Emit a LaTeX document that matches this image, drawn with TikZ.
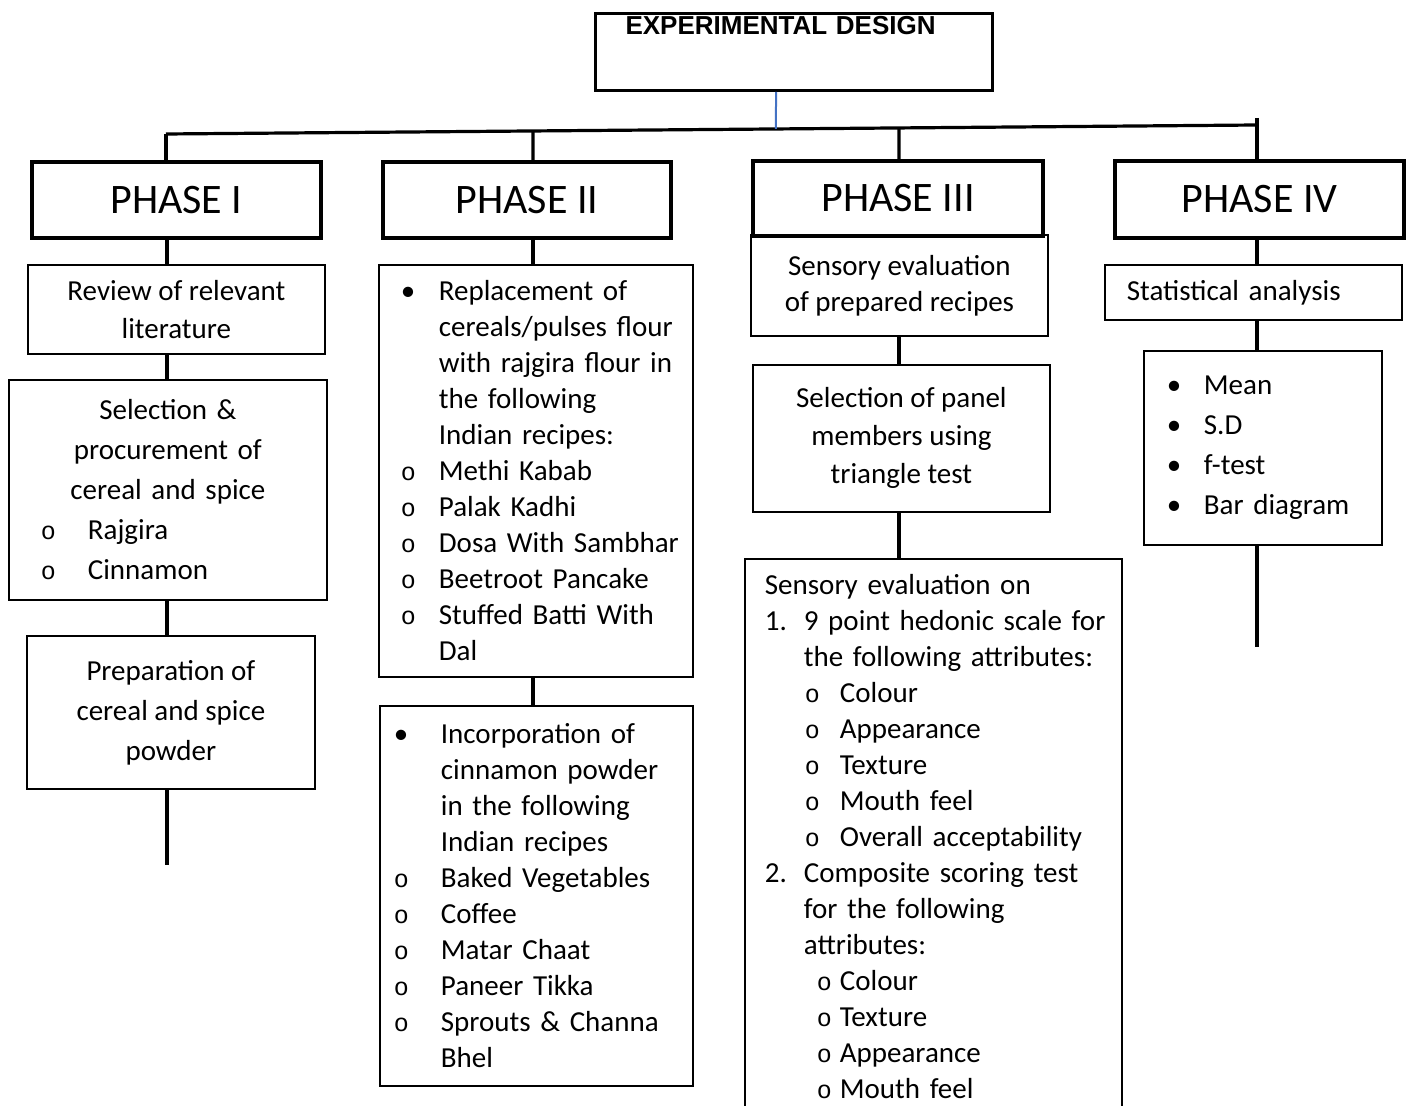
\documentclass[tikz,border=0pt]{standalone}
\usepackage{fontspec}
\setmainfont{Carlito}
\newfontfamily\titlefont{Liberation Sans}
\newfontfamily\markfont{Liberation Mono}
\usetikzlibrary{calc}
\definecolor{wordblue}{HTML}{4472C4}

\newcommand{\hollow}{{\markfont\fontsize{12.5}{12.5}\selectfont o}}
\newcommand{\listline}[3][19pt]{\mbox{\makebox[#1][l]{#2}#3}}

\begin{document}
\begin{tikzpicture}[x=0.5pt,y=-0.5pt,
    phase/.style={draw,line width=2pt,anchor=north west,inner sep=0pt,
      minimum width=144.5pt,minimum height=38pt,font=\fontsize{21}{25}\selectfont},
    stepbox/.style={draw,line width=0.9pt,anchor=north west,inner sep=0pt,
      align=center,font=\fontsize{14.5}{18}\selectfont},
    loose/.style={font=\fontsize{14.5}{20}\selectfont},
    listbox/.style={stepbox,align=left},
    link/.style={line width=1.6pt}]

  \path[use as bounding box,clip] (0,0) rectangle (1408,1106);

  % title and the bar under it
  \node[draw,line width=1.5pt,anchor=north west,inner xsep=15pt,inner ysep=0pt,
    text width=168.5pt,align=left,text height=10.5pt,text depth=28pt,
    font=\titlefont\bfseries\fontsize{13}{15}\selectfont] (design) at (594,12) {EXPERIMENTAL DESIGN};

  \coordinate (barL) at (166,134);
  \coordinate (barR) at (1257,125);
  \coordinate (cb) at (776,0);
  \coordinate (c1) at (167,0);
  \coordinate (c2) at (533,0);
  \coordinate (c3) at (899,0);
  \coordinate (c4) at (1257,0);
  \coordinate (top4) at (1257,118);
  \coordinate (end1) at (167,865);
  \coordinate (end4) at (1257,647);

  % phases
  \node[phase]                                    (p1) at (30,160)   {PHASE I};
  \node[phase,minimum width=144pt]                (p2) at (381,160)  {PHASE II};
  \node[phase,minimum width=145pt,minimum height=37.5pt] (p3) at (751,159) {PHASE III};
  \node[phase,minimum height=38.5pt]              (p4) at (1113,159) {PHASE IV};

  % phase I
  \node[stepbox,minimum width=148.5pt,minimum height=44.5pt,font=\fontsize{14.5}{19}\selectfont]
    (rev) at (27,264) {Review of relevant\\literature};
  \node[stepbox,loose,text width=159pt,minimum height=110pt] (sel) at (8,379)
    {Selection \&\\procurement of\\cereal and spice\\
     \makebox[159pt][l]{\hspace{16pt}\listline[23.5pt]{\hollow}{Rajgira}}\\
     \makebox[159pt][l]{\hspace{16pt}\listline[23.5pt]{\hollow}{Cinnamon}}};
  \node[stepbox,loose,minimum width=144pt,minimum height=76.5pt] (prep) at (26,635)
    {Preparation of\\cereal and spice\\powder};

  % phase II
  \node[listbox,text width=135pt,inner xsep=11pt,minimum height=206pt] (rep) at (378,264)
    {\listline{\textbullet}{Replacement of}\\
     \listline{}{cereals/pulses flour}\\
     \listline{}{with rajgira flour in}\\
     \listline{}{the following}\\
     \listline{}{Indian recipes:}\\
     \listline{\hollow}{Methi Kabab}\\
     \listline{\hollow}{Palak Kadhi}\\
     \listline{\hollow}{Dosa With Sambhar}\\
     \listline{\hollow}{Beetroot Pancake}\\
     \listline{\hollow}{Stuffed Batti With}\\
     \listline{}{Dal}};
  \node[listbox,text width=142.5pt,inner xsep=7pt,minimum height=190pt] (inc) at (379,705)
    {\listline[23.5pt]{\textbullet}{Incorporation of}\\
     \listline[23.5pt]{}{cinnamon powder}\\
     \listline[23.5pt]{}{in the following}\\
     \listline[23.5pt]{}{Indian recipes}\\
     \listline[23.5pt]{\hollow}{Baked Vegetables}\\
     \listline[23.5pt]{\hollow}{Coffee}\\
     \listline[23.5pt]{\hollow}{Matar Chaat}\\
     \listline[23.5pt]{\hollow}{Paneer Tikka}\\
     \listline[23.5pt]{\hollow}{Sprouts \& Channa}\\
     \listline[23.5pt]{}{Bhel}};

  % phase III
  \node[stepbox,minimum width=148.5pt,minimum height=50.5pt] (sens) at (750,234)
    {Sensory evaluation\\of prepared recipes};
  \node[stepbox,minimum width=148.5pt,minimum height=73.5pt,font=\fontsize{14.5}{19}\selectfont]
    (panel) at (752,364) {Selection of panel\\members using\\triangle test};
  \node[listbox,text width=168.5pt,inner xsep=10pt,inner ysep=7.5pt] (hedonic) at (744,558)
    {Sensory evaluation on\\
     \listline[19.5pt]{1.}{9 point hedonic scale for}\\
     \listline[19.5pt]{}{the following attributes:}\\
     \listline[37.5pt]{\hspace{20pt}\hollow}{Colour}\\
     \listline[37.5pt]{\hspace{20pt}\hollow}{Appearance}\\
     \listline[37.5pt]{\hspace{20pt}\hollow}{Texture}\\
     \listline[37.5pt]{\hspace{20pt}\hollow}{Mouth feel}\\
     \listline[37.5pt]{\hspace{20pt}\hollow}{Overall acceptability}\\
     \listline[19.5pt]{2.}{Composite scoring test}\\
     \listline[19.5pt]{}{for the following}\\
     \listline[19.5pt]{}{attributes:}\\
     \listline[37.5pt]{\hspace{26pt}\hollow}{Colour}\\
     \listline[37.5pt]{\hspace{26pt}\hollow}{Texture}\\
     \listline[37.5pt]{\hspace{26pt}\hollow}{Appearance}\\
     \listline[37.5pt]{\hspace{26pt}\hollow}{Mouth feel}};

  % phase IV
  \node[listbox,text width=126.5pt,inner xsep=11pt,minimum height=27.5pt] (stat) at (1104,264)
    {Statistical analysis};
  \node[listbox,loose,text width=96pt,inner xsep=11.5pt,minimum height=97pt] (measures) at (1143,350)
    {\listline[18.5pt]{\textbullet}{Mean}\\
     \listline[18.5pt]{\textbullet}{S.D}\\
     \listline[18.5pt]{\textbullet}{f-test}\\
     \listline[18.5pt]{\textbullet}{Bar diagram}};

  % connectors
  \draw[link] (barL) -- (barR);
  \draw[line width=1pt,draw=wordblue] (design.south -| cb) -- ($(barL)!0.5591!(barR)$);
  \draw[link] (barL) -- (barL |- p1.north);
  \draw[link] ($(barL)!0.3364!(barR)$) -- (p2.north -| c2);
  \draw[link] ($(barL)!0.6719!(barR)$) -- (p3.north -| c3);
  \draw[link] (top4) -- (p4.north -| c4);
  \foreach \a/\b/\c in {p1/rev/c1,rev/sel/c1,sel/prep/c1,p2/rep/c2,rep/inc/c2,
      sens/panel/c3,panel/hedonic/c3,p4/stat/c4,stat/measures/c4}
    \draw[link] (\a.south -| \c) -- (\b.north -| \c);
  \draw[link] (prep.south -| c1) -- (end1);
  \draw[link] (measures.south -| c4) -- (end4);
\end{tikzpicture}
\end{document}
